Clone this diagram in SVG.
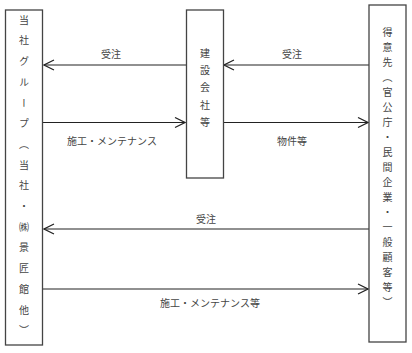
<svg xmlns="http://www.w3.org/2000/svg" width="412" height="353" viewBox="0 0 412 353">
<style>
.box{fill:#fff;stroke:#444;stroke-width:1.3}
.t{font-family:"Noto Sans CJK JP","Noto Sans CJK SC",sans-serif;font-size:10px;fill:#444;text-anchor:middle;dominant-baseline:central}
.v{font-family:"Noto Sans CJK JP","Noto Sans CJK SC",sans-serif;font-size:10px;fill:#444;writing-mode:vertical-rl;text-orientation:upright}
.c{stroke:#222;stroke-width:1.2;fill:none}
.ah{stroke:#222;stroke-width:1.2;fill:none}
</style>
<defs>
<marker id="arr" viewBox="0 0 12 12" refX="11" refY="6" markerWidth="12" markerHeight="12" markerUnits="userSpaceOnUse" orient="auto">
<path class="ah" d="M1,1 L11,6 L1,11"/>
</marker>
</defs>
<rect width="412" height="353" fill="#fff"/>
<g id="connectors">
<line class="c" x1="186" y1="65" x2="44" y2="65" marker-end="url(#arr)"/>
<line class="c" x1="43" y1="122.5" x2="185" y2="122.5" marker-end="url(#arr)"/>
<line class="c" x1="369" y1="65" x2="224" y2="65" marker-end="url(#arr)"/>
<line class="c" x1="223" y1="122.5" x2="368" y2="122.5" marker-end="url(#arr)"/>
<line class="c" x1="369" y1="229" x2="44" y2="229" marker-end="url(#arr)"/>
<line class="c" x1="43" y1="289" x2="368" y2="289" marker-end="url(#arr)"/>
<text class="t" x="111" y="53">受注</text>
<text class="t" x="112" y="140">施工・メンテナンス</text>
<text class="t" x="292" y="53">受注</text>
<text class="t" x="292" y="140">物件等</text>
<text class="t" x="206" y="218">受注</text>
<text class="t" x="210" y="302">施工・メンテナンス等</text>
</g>
<g id="group">
<rect class="box" x="5.5" y="10" width="37" height="335"/>
<text class="v"><tspan x="24" y="15">当</tspan><tspan x="24" y="35.7">社</tspan><tspan x="24" y="56.4">グ</tspan><tspan x="24" y="77.1">ル</tspan><tspan x="24" y="97.8">ー</tspan><tspan x="24" y="118.5">プ</tspan><tspan x="24" y="139.2">（</tspan><tspan x="24" y="159.9">当</tspan><tspan x="24" y="180.6">社</tspan><tspan x="24" y="201.3">・</tspan><tspan x="24" y="222">㈱</tspan><tspan x="24" y="242.7">景</tspan><tspan x="24" y="263.4">匠</tspan><tspan x="24" y="284.1">館</tspan><tspan x="24" y="304.8">他</tspan><tspan x="24" y="325.5">）</tspan></text>
</g>
<g id="builder">
<rect class="box" x="186.5" y="10" width="37" height="168"/>
<text class="v"><tspan x="205" y="48">建</tspan><tspan x="205" y="65.3">設</tspan><tspan x="205" y="82.6">会</tspan><tspan x="205" y="99.9">社</tspan><tspan x="205" y="117.2">等</tspan></text>
</g>
<g id="client">
<rect class="box" x="369" y="5" width="37" height="337"/>
<text class="v"><tspan x="387.5" y="27">得</tspan><tspan x="387.5" y="42">意</tspan><tspan x="387.5" y="57">先</tspan><tspan x="387.5" y="72">（</tspan><tspan x="387.5" y="87">官</tspan><tspan x="387.5" y="102">公</tspan><tspan x="387.5" y="117">庁</tspan><tspan x="387.5" y="132">・</tspan><tspan x="387.5" y="147">民</tspan><tspan x="387.5" y="162">間</tspan><tspan x="387.5" y="177">企</tspan><tspan x="387.5" y="192">業</tspan><tspan x="387.5" y="207">・</tspan><tspan x="387.5" y="222">一</tspan><tspan x="387.5" y="237">般</tspan><tspan x="387.5" y="252">顧</tspan><tspan x="387.5" y="267">客</tspan><tspan x="387.5" y="282">等</tspan><tspan x="387.5" y="297">）</tspan></text>
</g>
</svg>
